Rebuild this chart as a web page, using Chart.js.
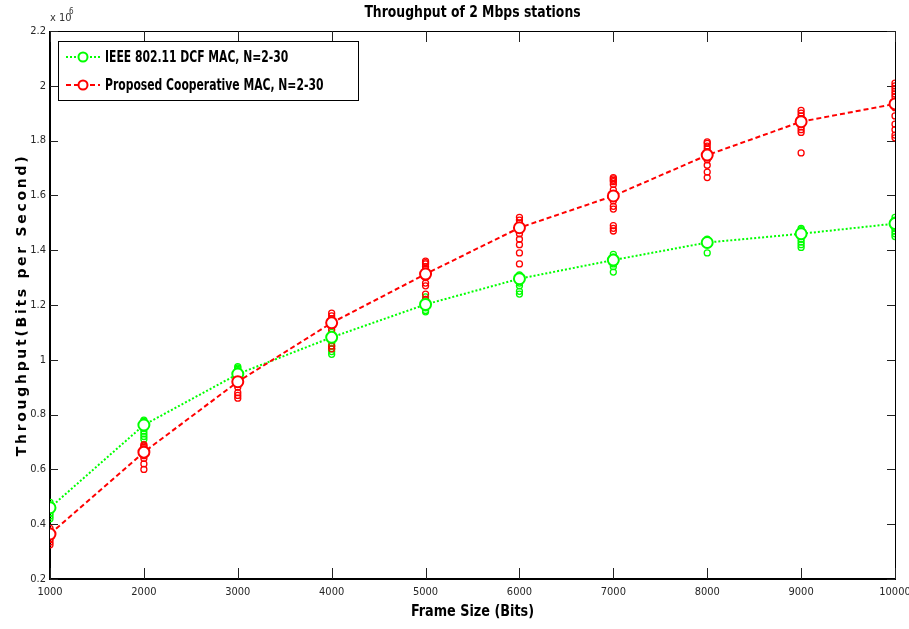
<!DOCTYPE html>
<html>
<head>
<meta charset="utf-8">
<title>Throughput of 2 Mbps stations</title>
<script src="https://cdn.jsdelivr.net/npm/chart.js@4.4.1/dist/chart.umd.min.js"></script>
<style>
  html, body { margin: 0; padding: 0; background: #fff; }
  #wrap { position: relative; width: 909px; height: 629px; }
</style>
</head>
<body>
<div id="wrap"><canvas id="thr" width="909" height="629"></canvas></div>
<script>
// frame sizes (bits) on the x axis
const frameSizes = [1000, 2000, 3000, 4000, 5000, 6000, 7000, 8000, 9000, 10000];

// averaged throughput, x 10^6 bits/s
const dcfMean  = [0.460, 0.762, 0.948, 1.082, 1.202, 1.296, 1.364, 1.428, 1.460, 1.497];
const coopMean = [0.364, 0.663, 0.920, 1.135, 1.313, 1.482, 1.598, 1.747, 1.869, 1.934];

// individual runs for N = 2..30, one list per frame size
const dcfRuns = [
  [0.48, 0.47, 0.46, 0.45, 0.44, 0.43, 0.42],
  [0.78, 0.775, 0.77, 0.76, 0.75, 0.74, 0.73, 0.72, 0.71],
  [0.975, 0.97, 0.965, 0.96, 0.955, 0.95, 0.94, 0.93],
  [1.10, 1.09, 1.08, 1.07, 1.06, 1.05, 1.04, 1.03, 1.02],
  [1.23, 1.22, 1.21, 1.20, 1.19, 1.18, 1.175],
  [1.31, 1.305, 1.30, 1.29, 1.28, 1.27, 1.25, 1.24],
  [1.385, 1.375, 1.37, 1.36, 1.35, 1.34, 1.32],
  [1.44, 1.43, 1.425, 1.42, 1.39],
  [1.48, 1.475, 1.47, 1.46, 1.45, 1.44, 1.43, 1.42, 1.41],
  [1.52, 1.51, 1.50, 1.49, 1.48, 1.47, 1.46, 1.45]
];
const coopRuns = [
  [0.385, 0.375, 0.365, 0.355, 0.345, 0.335, 0.325],
  [0.69, 0.685, 0.68, 0.675, 0.67, 0.66, 0.65, 0.64, 0.62, 0.60],
  [0.95, 0.945, 0.94, 0.935, 0.925, 0.91, 0.90, 0.88, 0.87, 0.86],
  [1.17, 1.16, 1.15, 1.14, 1.13, 1.11, 1.09, 1.07, 1.05, 1.04],
  [1.36, 1.355, 1.35, 1.34, 1.33, 1.32, 1.30, 1.28, 1.27, 1.24, 1.22, 1.21],
  [1.52, 1.51, 1.50, 1.49, 1.48, 1.46, 1.44, 1.42, 1.39, 1.35],
  [1.665, 1.66, 1.655, 1.65, 1.64, 1.62, 1.60, 1.58, 1.56, 1.55, 1.49, 1.48, 1.47],
  [1.795, 1.79, 1.78, 1.77, 1.76, 1.75, 1.73, 1.71, 1.685, 1.665],
  [1.91, 1.90, 1.89, 1.88, 1.87, 1.86, 1.85, 1.84, 1.83, 1.755],
  [2.01, 2.00, 1.99, 1.98, 1.97, 1.96, 1.94, 1.92, 1.89, 1.86, 1.84, 1.82, 1.81]
];

const seriesNames = ['IEEE 802.11 DCF MAC, N=2-30', 'Proposed Cooperative MAC, N=2-30'];

const GREEN = '#00ff00';
const RED = '#ff0000';
const NARROW = '"Liberation Sans Narrow", "DejaVu Sans Condensed", "Arial Narrow", sans-serif';

const meanPoints = arr => arr.map((v, i) => ({ x: frameSizes[i], y: v }));
const runPoints = runs => runs.flatMap((list, i) => list.map(v => ({ x: frameSizes[i], y: v })));

// bold condensed text, squeezed horizontally by sx
function narrowText(ctx, text, x, y, font, sx, align) {
  ctx.save();
  ctx.font = font;
  ctx.textBaseline = 'middle';
  ctx.textAlign = align;
  ctx.translate(x, y);
  ctx.scale(sx, 1);
  ctx.fillText(text, 0, 0);
  ctx.restore();
}

// box, inward ticks, titles, legend (MATLAB look)
const figureDecor = {
  id: 'figureDecor',
  beforeDatasetsDraw(chart) {
    const { ctx, chartArea: a, scales: { x, y } } = chart;
    ctx.save();
    ctx.strokeStyle = '#000';
    ctx.lineWidth = 1;
    ctx.strokeRect(a.left + 0.5, a.top + 0.5, a.right - a.left, a.bottom - a.top);
    ctx.lineWidth = 2;
    ctx.beginPath();
    ctx.moveTo(a.left, a.top);
    ctx.lineTo(a.left, a.bottom);
    ctx.lineTo(a.right, a.bottom);
    ctx.stroke();

    ctx.lineWidth = 1;
    ctx.strokeStyle = '#222';
    ctx.beginPath();
    x.ticks.forEach(t => {
      const px = Math.round(x.getPixelForValue(t.value)) + 0.5;
      ctx.moveTo(px, a.bottom); ctx.lineTo(px, a.bottom - 11);
      ctx.moveTo(px, a.top); ctx.lineTo(px, a.top + 11);
    });
    y.ticks.forEach(t => {
      const py = Math.round(y.getPixelForValue(t.value)) + 0.5;
      ctx.moveTo(a.left, py); ctx.lineTo(a.left + 8, py);
      ctx.moveTo(a.right, py); ctx.lineTo(a.right - 8, py);
    });
    ctx.stroke();
    ctx.restore();
  },
  afterDraw(chart) {
    const { ctx, chartArea: a } = chart;
    const cx = (a.left + a.right) / 2;
    ctx.save();
    ctx.fillStyle = '#000';

    narrowText(ctx, 'Throughput of 2 Mbps stations', cx, 13, 'bold 15px ' + NARROW, 0.92, 'center');
    narrowText(ctx, 'Frame Size (Bits)', cx, 612, 'bold 16px ' + NARROW, 0.89, 'center');

    // y axis title
    ctx.save();
    ctx.translate(22, (a.top + a.bottom) / 2);
    ctx.rotate(-Math.PI / 2);
    ctx.font = 'bold 14px "DejaVu Sans", sans-serif';
    ctx.textAlign = 'center';
    ctx.textBaseline = 'middle';
    ctx.letterSpacing = '2.7px';
    ctx.fillText('Throughput(Bits per Second)', 0, 0);
    ctx.restore();

    // exponent label
    ctx.fillStyle = '#333';
    ctx.textAlign = 'left';
    ctx.textBaseline = 'middle';
    ctx.font = '11px ' + NARROW;
    ctx.fillText('x 10', a.left, 18);
    ctx.font = '8px ' + NARROW;
    ctx.fillText('6', a.left + 19, 12);

    // legend
    const lx = 58, ly = 41, lw = 300, lh = 59;
    ctx.fillStyle = '#fff';
    ctx.fillRect(lx, ly, lw, lh);
    ctx.strokeStyle = '#000';
    ctx.lineWidth = 1;
    ctx.strokeRect(lx + 0.5, ly + 0.5, lw, lh);
    const rows = [
      { name: seriesNames[0], color: GREEN, dash: [2, 2], yy: 57 },
      { name: seriesNames[1], color: RED, dash: [5, 3], yy: 85 }
    ];
    rows.forEach(r => {
      ctx.strokeStyle = r.color;
      ctx.lineWidth = 2;
      ctx.setLineDash(r.dash);
      ctx.beginPath();
      ctx.moveTo(66, r.yy); ctx.lineTo(100, r.yy);
      ctx.stroke();
      ctx.setLineDash([]);
      ctx.fillStyle = '#fff';
      ctx.beginPath();
      ctx.arc(83, r.yy, 4.5, 0, Math.PI * 2);
      ctx.fill();
      ctx.stroke();
      ctx.fillStyle = '#000';
      narrowText(ctx, r.name, 105, r.yy + 1, 'bold 16px ' + NARROW, 0.75, 'left');
    });
    ctx.restore();
  }
};

new Chart(document.getElementById('thr'), {
  type: 'line',
  data: {
    datasets: [
      {
        label: seriesNames[0],
        data: meanPoints(dcfMean),
        borderColor: GREEN,
        borderWidth: 2,
        borderDash: [2, 2],
        pointRadius: 5.5,
        pointBorderWidth: 2,
        pointBorderColor: GREEN,
        pointBackgroundColor: '#fff',
        tension: 0,
        order: 1
      },
      {
        label: seriesNames[1],
        data: meanPoints(coopMean),
        borderColor: RED,
        borderWidth: 2,
        borderDash: [5, 3],
        pointRadius: 5.5,
        pointBorderWidth: 2,
        pointBorderColor: RED,
        pointBackgroundColor: '#fff',
        tension: 0,
        order: 0
      },
      {
        label: 'dcf runs',
        type: 'scatter',
        data: runPoints(dcfRuns),
        showLine: false,
        pointRadius: 3,
        pointBorderWidth: 1.3,
        pointBorderColor: GREEN,
        pointBackgroundColor: 'rgba(255,255,255,0)',
        order: 3
      },
      {
        label: 'coop runs',
        type: 'scatter',
        data: runPoints(coopRuns),
        showLine: false,
        pointRadius: 3,
        pointBorderWidth: 1.3,
        pointBorderColor: RED,
        pointBackgroundColor: 'rgba(255,255,255,0)',
        order: 2
      }
    ]
  },
  options: {
    responsive: false,
    animation: false,
    layout: { padding: { top: 31, right: 14, left: 0, bottom: 0 } },
    plugins: {
      legend: { display: false },
      title: { display: false },
      tooltip: { enabled: false }
    },
    scales: {
      x: {
        type: 'linear',
        min: 1000,
        max: 10000,
        grid: { display: false, drawTicks: false },
        border: { display: false },
        ticks: {
          stepSize: 1000,
          padding: 7,
          color: '#262626',
          font: { family: NARROW, size: 11 },
          maxRotation: 0,
          callback: v => String(v)
        },
        afterFit: s => { s.height = 50; s.paddingLeft = 0; s.paddingRight = 0; }
      },
      y: {
        min: 0.2,
        max: 2.2,
        grid: { display: false, drawTicks: false },
        border: { display: false },
        ticks: {
          stepSize: 0.2,
          padding: 4,
          color: '#262626',
          font: { family: NARROW, size: 11 },
          callback: v => String(+v.toFixed(1))
        },
        afterFit: s => { s.width = 50; s.paddingTop = 0; s.paddingBottom = 0; }
      }
    }
  },
  plugins: [figureDecor]
});
</script>
</body>
</html>
